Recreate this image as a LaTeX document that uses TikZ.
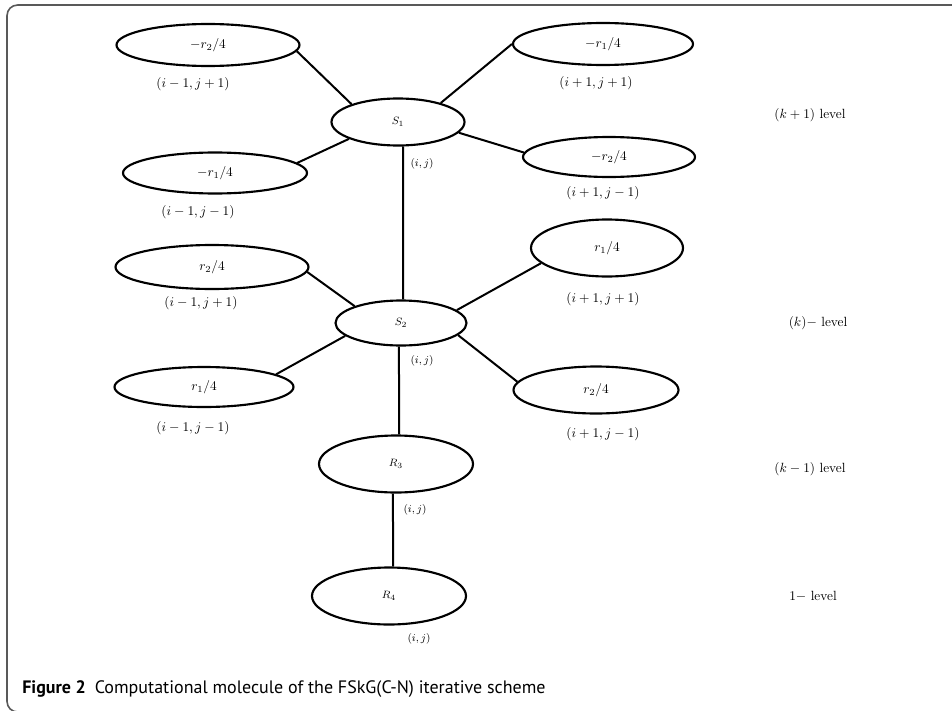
\documentclass[tikz,border=0pt]{standalone}
\usepackage{fontspec}
\newfontfamily\capfont{PT Sans}
\usetikzlibrary{shapes.geometric}
\newdimen\pxu \pxu=0.75pt
\tikzset{
  ell/.style={draw, ellipse, line width=1.6pt, inner sep=0pt, font=\normalsize},
  conn/.style={line width=1.5pt},
  idx/.style={font=\normalsize, inner sep=0pt},
  small/.style={font=\footnotesize, inner sep=0pt},
  lvl/.style={font=\normalsize, inner sep=0pt},
}
\begin{document}
\begin{tikzpicture}[x=0.75pt, y=-0.75pt]
\useasboundingbox (0,0) rectangle (952,710);
% frame
\draw[line width=1.2pt, color=black!65, rounded corners=8pt] (960,5) -- (7,5) -- (7,712) -- (40,712);

% level k+1
\node[ell, minimum width=183\pxu, minimum height=42\pxu] (tlA) at (208,45) {$-r_2/4$};
\node[idx] (tlAi) at (193,84) {$(i-1,j+1)$};
\node[ell, minimum width=133\pxu, minimum height=47\pxu] (S1) at (398,122) {\footnotesize $S_1$};
\node[ell, minimum width=184\pxu, minimum height=41\pxu] (tlB) at (215,173) {$-r_1/4$};
\node[idx] (tlBi) at (198,212) {$(i-1,j-1)$};
\node[ell, minimum width=180\pxu, minimum height=42\pxu] (trA) at (603,44) {$-r_1/4$};
\node[idx] (trAi) at (596,83) {$(i+1,j+1)$};
\node[ell, minimum width=172\pxu, minimum height=40\pxu] (trB) at (609,157) {$-r_2/4$};
\node[idx] (trBi) at (603,193) {$(i+1,j-1)$};
\node[small] (ij1) at (422,164) {$(i,j)$};
\node[lvl] (L1) at (810,115) {$(k+1)$ level};

% level k
\node[ell, minimum width=193\pxu, minimum height=44\pxu] (mlA) at (212,267) {$r_2/4$};
\node[idx] (mlAi) at (201,303) {$(i-1,j+1)$};
\node[ell, minimum width=131\pxu, minimum height=45\pxu] (S2) at (401,323) {\footnotesize $S_2$};
\node[ell, minimum width=179\pxu, minimum height=40\pxu] (mlB) at (204,387) {$r_1/4$};
\node[idx] (mlBi) at (193,428) {$(i-1,j-1)$};
\node[ell, minimum width=152\pxu, minimum height=57\pxu] (mrA) at (607,248) {$r_1/4$};
\node[idx] (mrAi) at (603,299) {$(i+1,j+1)$};
\node[ell, minimum width=165\pxu, minimum height=47\pxu] (mrB) at (596,390) {$r_2/4$};
\node[idx] (mrBi) at (603,434) {$(i+1,j-1)$};
\node[small] (ij2) at (422,361) {$(i,j)$};
\node[lvl] (L2) at (818,323) {$(k)-$ level};

% level k-1 and 1
\node[ell, minimum width=154\pxu, minimum height=57\pxu] (R3) at (396,464) {\footnotesize $R_3$};
\node[small] (ij3) at (415,510) {$(i,j)$};
\node[ell, minimum width=154\pxu, minimum height=57\pxu] (R4) at (389,596) {\footnotesize $R_4$};
\node[small] (ij4) at (419,639) {$(i,j)$};
\node[lvl] (L3) at (810,469) {$(k-1)$ level};
\node[lvl] (L4) at (813,596) {$1-$ level};

% connectors
\draw[conn] (S1.159) -- (tlA.-4);
\draw[conn] (S1.24) -- (trA.180);
\draw[conn] (S1.-10) -- (trB.177);
\draw[conn] (S1.199) -- (tlB.7);
\draw[conn] (S1.282) -- (S2.85);
\draw[conn] (S2.160) -- (mlA.-3);
\draw[conn] (S2.193) -- (mlB.10);
\draw[conn] (S2.13) -- (mrA.193);
\draw[conn] (S2.-12) -- (mrB.174);
\draw[conn] (S2.265) -- (R3.84);
\draw[conn] (R3.264) -- (R4.82);

% caption
\node[anchor=base west, inner sep=0pt, font=\capfont\fontsize{13.5pt}{16pt}\selectfont] (cap) at (22,693)
  {\textbf{Figure 2}\hspace{0.5em}Computational molecule of the FSkG(C-N) iterative scheme};
\end{tikzpicture}
\end{document}
